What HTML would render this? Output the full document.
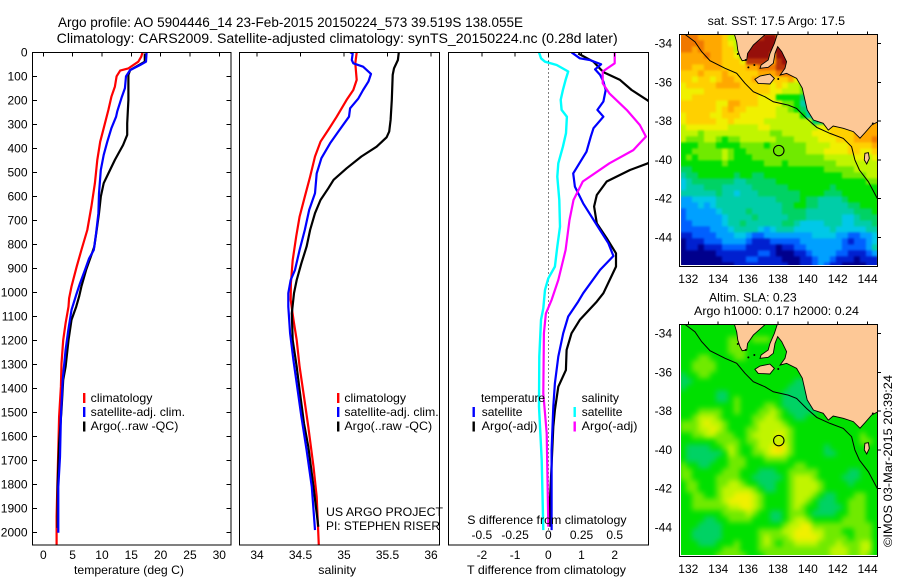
<!DOCTYPE html>
<html lang="en">
<head>
<meta charset="utf-8">
<title>Argo profile chart</title>
<style>
html,body{margin:0;padding:0;background:#fff;width:900px;height:580px;overflow:hidden}
svg{display:block}
text{font-family:"Liberation Sans",sans-serif;font-size:12px;fill:#000}
</style>
</head>
<body>
<svg id="chart" xmlns="http://www.w3.org/2000/svg" width="900" height="580" viewBox="0 0 900 580">
<defs>
<clipPath id="clip-t"><rect x="32.5" y="52" width="199" height="493"/></clipPath>
<clipPath id="clip-s"><rect x="239.5" y="52" width="200" height="493"/></clipPath>
<clipPath id="clip-d"><rect x="448.5" y="52" width="200" height="493"/></clipPath>
<clipPath id="clip-m1"><rect x="679.5" y="34.5" width="198" height="232"/></clipPath>
<clipPath id="clip-m2"><rect x="679.5" y="324.5" width="198" height="232"/></clipPath>
<filter id="soft-m1" x="-5%" y="-5%" width="110%" height="110%" color-interpolation-filters="sRGB"><feGaussianBlur stdDeviation="1.1"/></filter>
<filter id="soft-m2" x="-5%" y="-5%" width="110%" height="110%" color-interpolation-filters="sRGB"><feGaussianBlur stdDeviation="2.6"/></filter>
</defs>

<text x="58" y="27" font-size="14" style="font-size:14px" textLength="465" lengthAdjust="spacingAndGlyphs">Argo profile: AO 5904446_14 23-Feb-2015 20150224_573 39.519S 138.055E</text>
<text x="56.7" y="43" style="font-size:14px" textLength="561" lengthAdjust="spacingAndGlyphs">Climatology: CARS2009. Satellite-adjusted climatology: synTS_20150224.nc (0.28d later)</text>

<g id="g-t"></g>
<g id="g-s"></g>
<g id="g-d"></g>
<g id="g-m1"></g>
<g id="g-m2"></g>

<text x="74" y="574" textLength="110" lengthAdjust="spacingAndGlyphs">temperature (deg C)</text>
<text x="318.3" y="574" textLength="37.7" lengthAdjust="spacingAndGlyphs">salinity</text>
<text x="467" y="574" textLength="159" lengthAdjust="spacingAndGlyphs">T difference from climatology</text>
<text x="467.3" y="524" textLength="159.3" lengthAdjust="spacingAndGlyphs">S difference from climatology</text>

<g>
<rect x="83" y="393" width="2.4" height="10" fill="#f00"/>
<rect x="83" y="407" width="2.4" height="10" fill="#00f"/>
<rect x="83" y="421.5" width="2.4" height="10" fill="#000"/>
<text x="90.7" y="402" textLength="61.7" lengthAdjust="spacingAndGlyphs">climatology</text>
<text x="90.7" y="416" textLength="94.3" lengthAdjust="spacingAndGlyphs">satellite-adj. clim.</text>
<text x="90.7" y="430" textLength="87.7" lengthAdjust="spacingAndGlyphs">Argo(..raw -QC)</text>
</g>
<g>
<rect x="337" y="393" width="2.4" height="10" fill="#f00"/>
<rect x="337" y="407" width="2.4" height="10" fill="#00f"/>
<rect x="337" y="421.5" width="2.4" height="10" fill="#000"/>
<text x="344.4" y="402" textLength="61.7" lengthAdjust="spacingAndGlyphs">climatology</text>
<text x="344.4" y="416" textLength="94.3" lengthAdjust="spacingAndGlyphs">satellite-adj. clim.</text>
<text x="344.4" y="430" textLength="87.7" lengthAdjust="spacingAndGlyphs">Argo(..raw -QC)</text>
<text x="326" y="516" textLength="117" lengthAdjust="spacingAndGlyphs">US ARGO PROJECT</text>
<text x="326" y="530" textLength="114" lengthAdjust="spacingAndGlyphs">PI: STEPHEN RISER</text>
</g>

<g id="g-d-legend">
<text x="481" y="402" textLength="64" lengthAdjust="spacingAndGlyphs">temperature</text>
<text x="581.7" y="402" textLength="37.3" lengthAdjust="spacingAndGlyphs">salinity</text>
<rect x="472.5" y="407" width="2.4" height="10" fill="#00f"/>
<rect x="472.5" y="421.5" width="2.4" height="10" fill="#000"/>
<rect x="573.5" y="407" width="2.4" height="10" fill="#0ff"/>
<rect x="573.5" y="421.5" width="2.4" height="10" fill="#f0f"/>
<text x="481.7" y="416" textLength="40.7" lengthAdjust="spacingAndGlyphs">satellite</text>
<text x="481.7" y="430" textLength="55.7" lengthAdjust="spacingAndGlyphs">Argo(-adj)</text>
<text x="581.7" y="416" textLength="40.7" lengthAdjust="spacingAndGlyphs">satellite</text>
<text x="581.7" y="430" textLength="55.7" lengthAdjust="spacingAndGlyphs">Argo(-adj)</text>
</g>

<text x="707.7" y="25" textLength="137.3" lengthAdjust="spacingAndGlyphs">sat. SST: 17.5 Argo: 17.5</text>
<text x="709" y="301.5" textLength="87.7" lengthAdjust="spacingAndGlyphs">Altim. SLA: 0.23</text>
<text x="694" y="315" textLength="165" lengthAdjust="spacingAndGlyphs">Argo h1000: 0.17 h2000: 0.24</text>
<text transform="translate(892,547) rotate(-90)" textLength="172" lengthAdjust="spacingAndGlyphs">©IMOS 03-Mar-2015 20:39:24</text>
</svg>

<script>
// ---------- depth axis ----------
const depthTicks = [0,100,200,300,400,500,600,700,800,900,1000,1100,1200,1300,1400,1500,1600,1700,1800,1900,2000];
const tempTicks = [0,5,10,15,20,25,30];
const salTicks = [34,34.5,35,35.5,36];
const salTickLabels = ['34','34.5','35','35.5','36'];
const tDiffTicks = [-2,-1,0,1,2];
const sDiffTicks = [-0.5,-0.25,0,0.25,0.5];
const sDiffTickLabels = ['-0.5','-0.25','0','0.25','0.5'];

// ---------- temperature profiles ----------
const tempClimDepth = [0,18,39,67,76,100,143,185,240,316,372,448,545,642,740,823,892,975,1024,1059,1128,1198,1295,1392,1517,1656,1795,1933,2052];
const tempClimValue = [16.9,16.7,16.2,14.5,13.1,12.5,12.2,11.6,11.1,10.3,9.7,9.2,8.8,8.2,7.5,6.5,5.7,4.8,4.4,4.3,3.8,3.4,3.1,3.0,2.7,2.56,2.4,2.27,2.27];
const tempSatDepth = [0,39,53,74,100,150,185,247,268,316,372,427,490,587,670,753,823,858,906,962,1010,1073,1156,1239,1364,1517,1684,1809,2000];
const tempSatValue = [17.6,17.5,16.5,14.8,14.1,13.9,13.4,12.6,12.4,11.6,10.9,10.3,9.8,9.5,9.4,9.0,8.6,7.8,7.1,6.25,5.6,4.8,4.26,3.8,3.3,3.0,2.84,2.56,2.56];
const tempArgoDepth = [5,39,74,94,198,296,344,386,448,504,545,601,670,740,809,851,906,975,1017,1059,1114,1198,1309,1364,1489,1628,1809,1980];
const tempArgoValue = [17.3,17.3,14.8,14.5,14.5,14.3,14.3,13.6,12.2,11.1,10.3,9.8,9.5,9.1,8.7,8.1,7.3,6.5,6.1,5.6,4.8,4.3,3.8,3.4,3.1,2.7,2.44,2.44];

// ---------- salinity profiles ----------
const salClimDepth = [0,46,115,157,198,268,323,372,434,518,601,684,767,865,962,1031,1114,1198,1309,1434,1559,1725,1850,2052];
const salClimValue = [35.146,35.13,35.146,35.107,35.03,34.916,34.82,34.73,34.667,34.61,34.55,34.49,34.45,34.41,34.39,34.387,34.42,34.456,34.49,34.54,34.59,34.65,34.686,34.71];
const salSatDepth = [0,5,32,46,60,90,122,157,192,233,268,330,379,441,504,587,656,740,823,906,948,1003,1059,1170,1281,1378,1517,1656,1809,1989];
const salSatValue = [35.07,35.1,35.09,35.107,35.22,35.31,35.28,35.22,35.165,35.07,35.057,34.935,34.84,34.74,34.686,34.667,34.6,34.55,34.49,34.437,34.387,34.36,34.36,34.38,34.418,34.456,34.51,34.57,34.63,34.667];
const salArgoDepth = [0,32,67,94,198,282,330,354,393,434,483,531,566,615,670,740,809,878,948,1003,1087,1198,1309,1406,1545,1642,1809,1975];
const salArgoValue = [35.63,35.62,35.575,35.56,35.55,35.536,35.52,35.49,35.375,35.2,35.03,34.88,34.82,34.73,34.667,34.61,34.57,34.51,34.456,34.425,34.4,34.41,34.456,34.49,34.54,34.59,34.65,34.705];

// ---------- difference profiles ----------
const dTSatDepth = [0,25,32,50,71,94,122,157,205,240,268,316,351,414,504,559,629,719,795,848,906,1003,1038,1100,1170,1267,1378,1475,1656,1989];
const dTSatValue = [0.70,0.95,1.25,1.59,1.41,1.56,1.66,1.73,1.66,1.48,1.66,1.36,1.28,1.15,0.75,0.80,1.05,1.46,1.81,1.96,1.56,1.05,0.9,0.6,0.45,0.3,0.2,0.15,0.1,0.1];
const dTArgoDepth = [5,39,74,85,115,157,201,280,350,420,462,490,538,594,642,712,774,837,892,1003,1038,1114,1170,1239,1323,1392,1489,1559,1864,1975];
const dTArgoValue = [0.9,1.36,1.6,1.7,2.16,2.51,3.0,3.7,3.7,3.4,3.0,2.46,1.76,1.46,1.38,1.46,1.76,2.04,2.04,1.66,1.46,0.95,0.7,0.55,0.53,0.3,0.2,0.15,0.05,0.05];
const dSSatDepth = [0,25,39,53,80,115,157,198,240,268,337,393,462,518,615,726,809,892,941,989,1066,1114,1267,1475,1697,1989];
const dSSatValue = [-0.07,-0.055,-0.025,0.063,0.15,0.13,0.11,0.093,0.10,0.14,0.133,0.11,0.075,0.068,0.083,0.088,0.068,0.05,0,-0.025,-0.038,-0.055,-0.068,-0.07,-0.05,-0.038];
const dSArgoDepth = [0,46,80,129,171,240,303,351,407,462,538,615,698,823,948,1031,1087,1170,1420,1586,1975];
const dSArgoValue = [0.5,0.5,0.41,0.41,0.46,0.59,0.69,0.735,0.64,0.46,0.26,0.19,0.16,0.13,0.075,0.025,-0.018,-0.033,-0.038,-0.012,0];

// ---------- maps ----------
const lonTicks = [132,134,136,138,140,142,144];
const latTicks = [-34,-36,-38,-40,-42,-44];
const gridLonStart = 131.44;
const gridLonStep = 0.4015;
const gridLatStart = -33.52;
const gridLatStep = 0.3098;
const profileLon = [138.055];
const profileLat = [-39.519];

const landLon = [135.08,135.24,135.31,135.46,135.61,135.91,135.97,136.35,137.18,137.96,137.76,137.47,137.35,136.87,136.80,137.35,137.69,137.80,137.98,138.25,138.58,138.47,138.14,138.58,139.25,139.63,139.81,139.96,140.37,141.03,141.37,141.70,142.37,143.04,143.49,143.82,144.27,144.70,144.70];
const landLat = [-33.50,-33.90,-34.33,-34.67,-34.88,-34.84,-34.50,-34.07,-33.50,-33.50,-33.98,-34.50,-34.84,-35.10,-35.27,-35.22,-35.01,-34.50,-34.15,-34.41,-34.93,-35.27,-35.62,-35.53,-35.79,-36.30,-36.91,-37.42,-37.94,-38.11,-38.46,-38.25,-38.37,-38.54,-38.88,-38.60,-38.20,-38.03,-33.50];
const kangarooLon = [136.46,136.80,137.46,137.76,137.46,136.68];
const kangarooLat = [-35.84,-35.67,-35.57,-35.79,-36.08,-36.05];
const kingLon = [143.82,144.05,144.11,143.94,143.78];
const kingLat = [-39.66,-39.63,-39.92,-40.21,-40.00];
const isletLon = [135.84,136.02,136.42,135.31,138.02,144.35];
const isletLat = [-34.84,-35.22,-35.10,-34.53,-35.82,-38.12];
const isobathLon = [131.78,132.45,132.89,133.45,134.46,135.24,135.79,136.35,137.13,137.69,138.69,139.25,139.92,140.60,141.48,142.37,142.93,143.15,143.45,144.05,144.67];
const isobathLat = [-33.52,-33.90,-34.41,-34.88,-35.27,-35.53,-36.04,-36.48,-36.74,-37.00,-37.17,-37.34,-37.86,-38.32,-38.63,-38.89,-39.32,-40.00,-40.52,-41.13,-42.02];

const colourLevels = ['#00008c','#0020d0','#0060ff','#00a0ff','#00c8e8','#00cda8','#00d264','#00e000','#70ea00','#c0f500','#f0f000','#ffd000','#ffa800','#f07800','#bc3408','#960f0a'];

const sstLevels = [
[13,13,13,12,12,12,12,11,9,9,11,12,12,14,15,15],
[13,13,13,13,12,12,12,11,10,9,11,12,15,15,15,15],
[13,13,12,13,12,12,12,11,11,9,10,15,15,15,15,15,15,15],
[12,12,12,12,13,12,12,11,11,10,7,15,15,15,15,12,15,15],
[12,12,12,12,12,12,12,11,11,11,10,14,14,14,14,12,14,15,12],
[12,12,11,11,12,12,12,11,11,11,11,12,12,13,13,13,14,14,12],
[11,11,11,12,11,11,11,12,11,11,11,11,11,12,12,12,13,13,13,12],
[11,11,10,11,11,10,11,12,12,11,11,11,12,11,11,11,11,11,12,10,10],
[10,11,11,11,11,11,12,12,12,12,11,11,11,11,11,10,11,10,9,9,8],
[10,10,10,10,11,11,11,11,11,11,11,11,11,11,11,10,10,9,9,9,8,10],
[10,10,11,11,11,11,11,11,11,11,11,11,11,10,10,10,7,7,7,7,6,6],
[11,11,11,11,11,11,10,10,12,12,11,11,11,10,10,10,10,8,8,7,5,5],
[11,11,11,11,11,11,10,11,12,11,11,10,10,10,10,10,9,9,8,7,6,5,5],
[10,11,11,11,11,10,10,11,11,11,10,10,10,10,10,10,9,9,9,9,7,5,5,4],
[10,11,11,11,11,11,10,10,11,10,10,10,10,10,9,9,9,9,9,9,9,9,6,6,5,10],
[9,10,10,10,10,10,10,10,9,9,9,9,9,10,10,9,9,9,9,9,9,9,9,10,10,11,11,11,12],
[9,9,9,8,9,9,9,9,9,9,9,9,9,9,9,8,8,9,9,9,9,9,10,10,10,11,11,11,11,12,12,12,12],
[9,8,8,8,9,9,8,7,8,8,9,9,9,9,9,9,8,8,8,9,9,9,9,10,10,10,11,11,11,12,12,12,13],
[7,7,7,8,8,8,7,7,7,7,8,8,8,8,7,8,8,8,8,8,8,9,9,9,9,10,10,10,11,11,11,11,12],
[7,7,8,8,8,8,8,9,8,7,7,8,8,8,8,8,8,8,8,8,8,9,9,9,10,10,10,10,11,11,10,10,11],
[7,8,7,8,8,8,8,9,8,7,7,7,8,8,8,8,8,8,8,8,8,8,8,8,9,9,9,9,9,10,10,9,10],
[7,7,7,7,7,7,7,8,7,7,7,7,7,7,8,8,8,7,8,8,8,8,8,8,8,8,9,9,9,9,9,9,9],
[6,6,7,7,7,7,7,7,7,7,7,7,7,7,7,7,7,7,7,7,7,7,7,7,8,8,8,8,8,9,9,9,9],
[5,6,6,7,7,7,7,7,7,6,7,7,6,6,7,7,7,7,7,7,7,7,7,7,7,7,7,8,8,8,8,9,9],
[4,5,6,6,6,6,6,6,6,5,5,6,6,6,6,6,7,7,7,7,7,7,7,7,7,7,7,7,7,7,7,8,8],
[4,5,5,5,6,6,6,5,5,5,5,5,6,6,6,6,6,6,7,7,7,7,7,7,7,6,7,7,7,7,7,7,7],
[5,5,5,5,5,5,6,5,5,4,5,5,5,6,6,6,6,6,6,6,7,7,7,7,6,6,6,7,7,7,7,7,7],
[3,3,4,4,4,4,5,5,5,5,5,5,5,5,5,5,6,6,6,6,7,6,6,5,5,5,5,6,7,7,7,7,7],
[3,3,3,4,3,4,5,5,5,5,5,5,5,5,5,5,5,6,6,7,7,6,6,5,5,5,5,5,6,6,7,7,7],
[2,3,3,3,3,3,4,5,5,5,5,6,5,5,5,5,5,6,6,6,6,5,5,5,5,5,5,5,5,6,6,6,7],
[2,3,3,3,3,3,3,4,5,5,5,5,6,5,5,5,5,5,6,6,6,5,5,5,5,5,5,4,4,5,6,6,6],
[2,2,3,3,3,3,3,4,5,5,6,5,5,5,5,5,5,6,6,5,4,4,4,4,5,5,5,4,4,5,5,5,6],
[2,2,2,2,2,3,3,3,4,5,5,5,5,4,3,4,5,5,5,4,4,4,4,4,4,5,4,4,4,4,4,5,5],
[1,1,2,2,2,2,3,3,3,4,4,3,2,2,3,3,3,3,3,3,3,3,4,4,4,4,3,3,2,2,3,3,4],
[0,1,1,1,2,2,2,3,3,3,3,2,1,1,1,2,2,2,2,2,3,3,3,3,3,3,3,2,1,2,2,3,4],
[0,1,1,0,1,1,1,2,2,2,2,1,1,1,1,1,0,1,1,2,2,3,3,3,3,3,3,2,2,2,2,3,5],
[0,0,0,0,0,0,1,1,1,1,1,1,1,2,2,1,0,0,0,1,1,2,3,3,3,3,2,2,1,1,1,2,3],
[0,0,0,0,0,0,0,1,1,1,1,2,2,1,1,1,1,0,0,0,1,1,2,3,3,2,1,1,1,0,1,1,1],
[0,0,0,0,0,0,0,0,0,1,1,1,1,1,1,1,1,1,0,0,1,1,2,3,2,1,1,0,0,0,0,1,1]
];

const slaLevels = [
[7,7,7,7,7,7,7,7,7,7,7,7,7,7,7,7],
[7,7,7,7,7,7,7,7,7,7,7,7,7,7,7,7],
[7,7,7,7,7,7,7,7,8,8,8,7,8,8,8,7,7,7],
[7,7,7,7,7,7,7,7,8,8,8,7,7,7,7,7,7,7],
[7,7,7,7,7,7,7,7,8,8,8,7,7,7,7,7,7,7],
[7,7,7,8,8,7,7,7,7,8,8,7,7,7,7,7,7,7],
[7,7,8,8,8,8,7,7,7,7,7,7,7,7,7,7,7,7,7],
[7,7,8,8,8,8,7,7,7,7,7,7,7,7,7,7,7,7,7,7,7],
[6,7,7,8,8,7,7,7,7,7,7,7,7,7,7,7,7,7,7,7,7,7],
[6,6,7,7,7,7,7,7,7,7,7,7,7,7,7,7,7,7,7,6,6,7],
[6,7,7,7,7,7,7,7,7,7,7,7,7,7,7,7,7,7,6,6,6,6],
[7,7,7,7,7,7,6,6,7,7,7,7,7,7,7,7,7,6,6,6,6,6],
[7,7,7,7,7,7,6,6,7,8,7,7,7,7,7,7,7,6,6,6,6,6,7],
[7,7,7,7,7,7,7,7,7,8,7,7,7,7,8,8,7,6,6,6,6,6,6,7],
[7,7,7,8,8,8,8,7,7,8,7,7,7,8,8,9,8,7,6,6,6,6,6,7,7],
[7,7,8,9,9,9,8,7,7,7,7,7,8,8,9,9,8,7,7,6,6,7,7,7,7,7,7,7],
[8,8,8,9,10,9,9,8,7,7,7,7,8,9,9,9,9,8,7,7,7,7,7,7,7,7,7,7,7,7,7,7,7],
[8,8,8,9,9,10,9,8,7,7,7,8,8,9,9,9,9,9,8,7,7,7,7,7,7,7,7,7,7,7,7,7,7],
[7,7,8,8,9,9,8,8,8,7,7,8,9,9,9,9,10,9,8,7,7,7,7,7,7,7,7,7,7,7,8,7,7],
[7,7,7,7,7,7,8,8,8,8,7,8,8,9,9,9,9,9,8,7,7,7,7,7,7,7,7,7,7,7,8,8,7],
[7,6,6,6,6,7,7,8,9,8,7,7,8,9,9,10,11,10,8,7,7,7,7,7,6,7,7,7,7,7,7,7,7],
[7,6,6,6,6,6,6,7,9,8,7,7,8,8,9,10,10,9,8,7,7,7,7,7,6,6,7,7,7,7,7,7,7],
[7,6,6,6,6,6,7,7,8,8,8,7,7,7,8,8,8,8,7,7,7,7,7,7,7,7,7,7,7,7,7,7,7],
[8,7,7,6,6,7,7,7,8,8,8,7,7,7,7,7,7,7,7,8,8,7,7,7,7,7,7,7,7,7,7,7,7],
[8,8,7,7,7,7,7,8,8,8,7,7,7,6,6,6,7,7,8,8,8,8,8,7,7,7,7,7,6,6,7,7,7],
[8,8,7,7,7,7,8,8,8,8,7,7,6,6,6,6,6,7,8,9,9,9,8,7,7,7,7,6,6,6,7,7,7],
[7,8,8,7,7,7,8,8,9,9,8,7,7,6,6,6,7,7,8,9,9,9,9,8,7,7,7,7,6,7,7,7,7],
[7,8,8,7,7,7,8,9,9,9,9,9,8,7,6,6,7,7,8,9,9,9,9,8,7,7,7,7,7,7,7,7,7],
[7,7,8,8,7,7,8,9,9,10,10,10,9,8,7,7,7,7,8,9,9,9,8,7,6,6,7,7,7,8,8,7,7],
[7,7,8,8,8,8,8,9,10,10,10,10,9,8,7,7,7,7,8,9,9,8,7,6,6,6,7,7,8,8,8,7,7],
[7,7,8,8,8,8,8,8,9,9,10,10,9,8,7,7,7,7,8,9,8,7,7,6,6,6,6,7,8,8,8,7,7],
[7,7,7,7,7,7,7,8,8,8,8,9,8,7,7,6,6,7,8,8,8,7,6,6,6,6,7,7,8,8,8,7,7],
[7,7,7,7,6,6,7,7,8,8,8,8,7,7,7,6,6,7,8,9,9,8,7,7,7,7,7,8,8,8,8,7,7],
[7,7,7,6,6,6,6,7,7,7,7,7,7,7,7,7,7,8,9,9,10,10,8,8,8,8,8,8,8,8,8,8,7],
[7,7,6,6,6,6,6,7,7,7,7,7,7,8,8,8,8,9,9,10,10,10,9,9,8,8,8,7,7,8,8,8,7],
[7,7,6,6,6,6,6,7,7,7,7,7,7,8,9,8,8,8,9,10,10,10,10,9,8,8,8,8,7,8,8,8,7],
[7,7,7,6,6,6,7,7,7,8,7,7,7,8,9,8,7,8,8,9,9,9,9,8,8,8,9,8,8,8,9,9,7],
[7,7,7,7,7,7,7,8,8,8,7,7,7,8,8,8,8,8,8,8,8,8,8,8,8,9,9,9,8,8,9,9,7],
[7,7,7,7,7,7,8,8,8,8,8,7,7,7,8,8,8,8,8,8,8,8,8,8,8,9,9,9,8,8,9,8,7]
];

// ---------- axis functions ----------
const NS = 'http://www.w3.org/2000/svg';
const yDepth = d => 52.3 + d * 0.2402;
const xTemp = t => 43.3 + t * 5.867;
const xSal = s => 257 + (s - 34) * 87;
const xDT = t => 548.3 + t * 33.2;
const xDS = s => 548.3 + s * 132.8;
const xLon = lon => 688.3 + (lon - 132) * 14.943;
const yLat1 = lat => 43.7 + (-34 - lat) * 19.367;
const yLat2 = lat => 333.7 + (-34 - lat) * 19.367;

function mk(tag, attrs, parent, txt) {
  const el = document.createElementNS(NS, tag);
  for (const k in attrs) el.setAttribute(k, attrs[k]);
  if (txt !== undefined) el.textContent = txt;
  parent.appendChild(el);
  return el;
}
function pointsOf(xs, ys, fx, fy) {
  return xs.map((v, i) => fx(v).toFixed(1) + ',' + fy(ys[i]).toFixed(1)).join(' ');
}

function drawFrame(g, x, y, w, h) {
  const el = mk('rect', {x: x, y: y, width: w, height: h, fill: 'none', stroke: '#000', 'stroke-width': 1.4, 'shape-rendering': 'crispEdges'}, g);
  
  
}
function drawProfile(g, values, depths, fx, colour, clip, name, width) {
  const el = mk('polyline', {points: pointsOf(values, depths, fx, yDepth), fill: 'none', stroke: colour, 'stroke-width': width || 2.2, 'clip-path': 'url(#' + clip + ')', 'stroke-linejoin': 'round'}, g);
  
  
}
function drawTopTicks(g, ticks, fx, top) {
  ticks.forEach(t => {
    const el = mk('line', {x1: fx(t), x2: fx(t), y1: top, y2: top + 4, stroke: '#000', 'stroke-width': 1, 'shape-rendering': 'crispEdges'}, g);
    
    
  });
}
function drawBottomLabels(g, ticks, labels, fx, y) {
  ticks.forEach((t, i) => {
    const el = mk('text', {x: fx(t), y: y, 'text-anchor': 'middle'}, g, labels[i]);
    
    
  });
}

// ---------- temperature panel ----------
const gT = document.getElementById('g-t');
drawProfile(gT, tempClimValue, tempClimDepth, xTemp, '#f00', 'clip-t', 'temperature-climatology-line');
drawProfile(gT, tempArgoValue, tempArgoDepth, xTemp, '#000', 'clip-t', 'temperature-argo-line');
drawProfile(gT, tempSatValue, tempSatDepth, xTemp, '#00f', 'clip-t', 'temperature-satellite-line');
drawFrame(gT, 32.5, 52.5, 198.5, 492.5);
drawTopTicks(gT, tempTicks, xTemp, 52.5);
drawBottomLabels(gT, tempTicks, tempTicks.map(String), xTemp, 559);
depthTicks.forEach(d => {
  const l = mk('line', {x1: 32.5, x2: 37, y1: yDepth(d), y2: yDepth(d), stroke: '#000', 'shape-rendering': 'crispEdges'}, gT);
  
  
  const r = mk('line', {x1: 226.5, x2: 231, y1: yDepth(d), y2: yDepth(d), stroke: '#000', 'shape-rendering': 'crispEdges'}, gT);
  
  
  const lab = mk('text', {x: 27.5, y: yDepth(d) + 4, 'text-anchor': 'end'}, gT, String(d));
  
  
});

// ---------- salinity panel ----------
const gS = document.getElementById('g-s');
drawProfile(gS, salClimValue, salClimDepth, xSal, '#f00', 'clip-s', 'salinity-climatology-line');
drawProfile(gS, salArgoValue, salArgoDepth, xSal, '#000', 'clip-s', 'salinity-argo-line');
drawProfile(gS, salSatValue, salSatDepth, xSal, '#00f', 'clip-s', 'salinity-satellite-line');
drawFrame(gS, 239.5, 52.5, 200, 492.5);
drawTopTicks(gS, salTicks, xSal, 52.5);
drawBottomLabels(gS, salTicks, salTickLabels, xSal, 559);

// ---------- difference panel ----------
const gD = document.getElementById('g-d');
const zeroLine = mk('line', {x1: xDT(0), x2: xDT(0), y1: 52.5, y2: yDepth(2000), stroke: '#000', 'stroke-width': 1, 'stroke-dasharray': '1 3', 'shape-rendering': 'crispEdges'}, gD);


drawProfile(gD, dTArgoValue, dTArgoDepth, xDT, '#000', 'clip-d', 't-difference-argo-line');
drawProfile(gD, dTSatValue, dTSatDepth, xDT, '#00f', 'clip-d', 't-difference-satellite-line');
drawProfile(gD, dSSatValue, dSSatDepth, xDS, '#0ff', 'clip-d', 's-difference-satellite-line', 2.4);
drawProfile(gD, dSArgoValue, dSArgoDepth, xDS, '#f0f', 'clip-d', 's-difference-argo-line');
drawFrame(gD, 448.5, 52.5, 200, 492.5);
drawTopTicks(gD, tDiffTicks, xDT, 52.5);
drawBottomLabels(gD, tDiffTicks, tDiffTicks.map(String), xDT, 559);
drawBottomLabels(gD, sDiffTicks, sDiffTickLabels, xDS, 539);

// ---------- maps ----------
function drawMap(g, levels, fy, clip, top, seaFill, softId, cellsId) {
  const holder = mk('g', {'clip-path': 'url(#' + clip + ')'}, g);
  
  
  const bg = mk('rect', {x: 679.5, y: top, width: 198, height: 232, fill: seaFill}, holder);
  
  
  const cells = mk('g', {id: cellsId, filter: 'url(#' + softId + ')'}, holder);
  
  
  levels.forEach((row, r) => {
    row.forEach((v, c) => {
      const lonA = gridLonStart + c * gridLonStep;
      const latA = gridLatStart - r * gridLatStep;
      const x0 = xLon(lonA), x1 = xLon(lonA + gridLonStep);
      const y0 = fy(latA), y1 = fy(latA - gridLatStep);
      const cell = mk('rect', {x: x0.toFixed(2), y: y0.toFixed(2), width: (x1 - x0 + 0.3).toFixed(2), height: (y1 - y0 + 0.3).toFixed(2), fill: colourLevels[v]}, cells);
      
      
    });
  });
  const land = mk('polygon', {points: pointsOf(landLon, landLat, xLon, fy), fill: '#fdc896', stroke: '#000', 'stroke-width': 0.9}, holder);
  
  
  const kang = mk('polygon', {points: pointsOf(kangarooLon, kangarooLat, xLon, fy), fill: '#fdc896', stroke: '#000', 'stroke-width': 0.9}, holder);
  
  
  const king = mk('polygon', {points: pointsOf(kingLon, kingLat, xLon, fy), fill: '#fdc896', stroke: '#000', 'stroke-width': 0.9}, holder);
  
  
  isletLon.forEach((lon, i) => {
    const dot = mk('circle', {cx: xLon(lon), cy: fy(isletLat[i]), r: 1, fill: '#000'}, holder);
    
    
  });
  const iso = mk('polyline', {points: pointsOf(isobathLon, isobathLat, xLon, fy), fill: 'none', stroke: '#000', 'stroke-width': 1}, holder);
  
  
  const mark = mk('circle', {cx: xLon(profileLon[0]), cy: fy(profileLat[0]), r: 5.2, fill: 'none', stroke: '#000', 'stroke-width': 1.1}, holder);
  
  
  const gapL = mk('rect', {x: 680, y: top, width: 1, height: 232, fill: '#fff'}, g);
  
  
  const gapB = mk('rect', {x: 680, y: top + 230.5, width: 197, height: 1, fill: '#fff'}, g);
  
  
  drawFrame(g, 679.5, top, 198, 232);
  lonTicks.forEach(lon => {
    const t = mk('line', {x1: xLon(lon), x2: xLon(lon), y1: top - 3, y2: top, stroke: '#000', 'shape-rendering': 'crispEdges'}, g);
    
    
    const lab = mk('text', {x: xLon(lon), y: top + 248.5, 'text-anchor': 'middle'}, g, String(lon));
    
    
  });
  latTicks.forEach(lat => {
    const t = mk('line', {x1: 877.5, x2: 881, y1: fy(lat), y2: fy(lat), stroke: '#000', 'shape-rendering': 'crispEdges'}, g);
    
    
    const lab = mk('text', {x: 672, y: fy(lat) + 4, 'text-anchor': 'end'}, g, String(lat));
    
    
  });
}
drawMap(document.getElementById('g-m1'), sstLevels, yLat1, 'clip-m1', 34.5, '#ffa800', 'soft-m1', 'cells-m1');
drawMap(document.getElementById('g-m2'), slaLevels, yLat2, 'clip-m2', 324.5, '#00e000', 'soft-m2', 'cells-m2');
</script>
</body>
</html>
